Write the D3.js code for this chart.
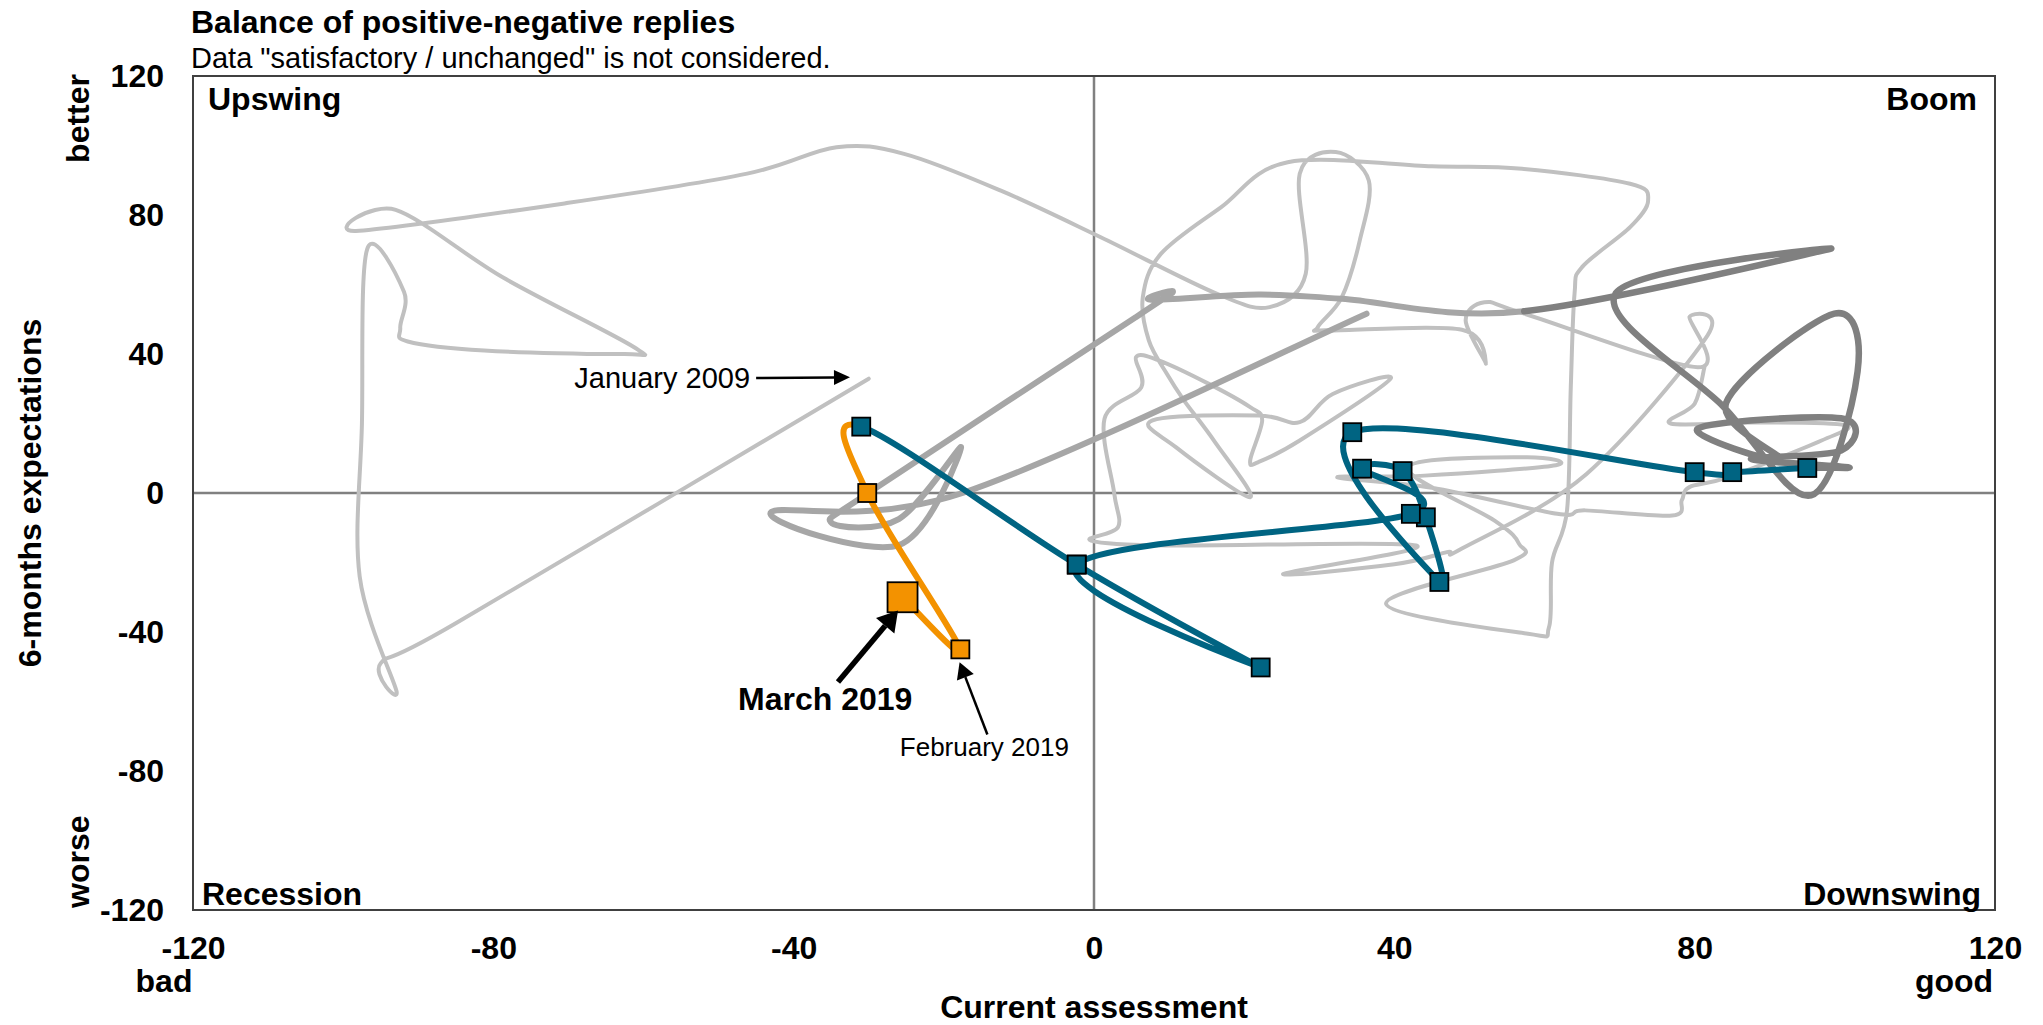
<!DOCTYPE html>
<html>
<head>
<meta charset="utf-8">
<script src="https://d3js.org/d3.v7.min.js"></script>
<style>
  body { margin: 0; background: #fff; }
  svg text { font-family: "Liberation Sans", Arial, sans-serif; fill: #000; }
</style>
</head>
<body>
<script>
// --- data: [current assessment, 6-months expectations] ---
const history = [
  [-30,32.9],[-85,-37.5],[-95,-49],[-92.9,-57],[-97.8,-24],[-97.5,20],[-96.8,70.2],
  [-91.9,57.9],[-92.4,47.5],[-91.4,43.6],[-81.2,41],[-62.9,40],[-61.3,42],[-78.7,62],[-93,81.5],
  [-98.3,75.4],[-70,83.5],[-46.2,91.9],[-34.3,99.5],[-25.3,97.6],[-12.4,87],[0.9,73.6],[16.4,57.3],
  [23.4,53.5],[28.2,63.1],[27.4,91.9],[32.2,98.1],[36.6,89.9],[35.4,72.7],[33,56.3],[29.8,47.7],
  [31.4,46.8],[49,47],[52.2,37.2],[49.5,49.6],[52,54.9],[57.3,51.6],[80.4,36.2],[79.3,50.6],
  [81.7,45.3],[65.6,5.5],[49,-16],[47,-17],[40,-20.5],[25.2,-23.3],[42.9,-15.1],[10.9,-15.1],
  [-0.4,-13.7],[3.2,-9.8],[2.7,-0.2],[1.4,21.4],[6.3,30.4],[5.6,39.1],[8.7,38.1],[15.3,31.4],
  [20.8,24.7],[22.4,20.9],[20.8,9.4],[21.9,8.9],[27.4,15.1],[39.5,32.9],[31.8,28.5],[27.4,20.4],
  [21.9,22.3],[7.8,20.9],[10.9,13.2],[20.8,-1.2],[16,15],[12,26.6],[9.7,34.3],[7.3,43.9],
  [6.5,56.3],[8.9,68.8],[16.9,82.2],[25.8,95.2],[45,94],[57,93.3],[71.4,89],[73.8,84.2],
  [71.4,76.5],[65,65],[64,57.3],[63.5,30.4],[63,-5],[61,-20],[60.6,-38.6],[57.8,-40.5],
  [38.9,-31.9],[55.9,-19.4],[56.6,-14.6],[53.4,-8],[41.8,7.4],[57.3,10.3],[61.5,8],[44,5],
  [32.4,4.5],[45,1.5],[61.7,-6],[65.4,-5],[77,-6.5],[78.3,-2],[79.3,1.7],[84.4,4.5],
  [96.9,15.1],[100,19.5],[88,20.3],[76.8,20],[80,25.7],[81.3,36.2]
];
const year2016 = [[36.3,51.6],[-17.5,0],[-43,-5.5],[-26,-15],[-17.7,13.2],[-26,-7.5],[-35,-8.5],[-29,1.5],
  [5.5,50.5],[10.5,58],[7.6,55.6],[21.9,57.1],[33,55.9],[57.3,52.3]];
const year2017 = [[98.1,70.3],[69.5,57.5],[83.9,24.7],[95.5,-0.7],[101.7,35],[98.6,51.6],[84.2,26],
  [91.5,9.5],[80.4,18.5],[99.5,21.5],[99.5,12.2],[87.5,9.8],[100.4,7.4]];
const year2018 = [[95,7.2],[85,6],[80,6],[34.4,17.5],[46,-25.6],[44.2,-7],[41.1,6.3],[35.7,7],
  [42.2,-6],[-2.3,-20.6],[22.2,-50.2],[-2.3,-20.6],[-31,19.1]];
const year2019 = [[-30.2,0],[-17.8,-45],[-25.5,-30]];

const xTicks = [-120, -80, -40, 0, 40, 80, 120];
const yTicks = [-120, -80, -40, 0, 40, 80, 120];
const quadrants = ["Upswing", "Boom", "Recession", "Downswing"];
const notes = ["January 2009", "February 2019", "March 2019"];

// --- layout ---
const W = 2043, H = 1025;
const svg = d3.select("body").append("svg").attr("width", W).attr("height", H);
const x = d3.scaleLinear().domain([-120, 120]).range([193, 1995]);
const y = d3.scaleLinear().domain([-120, 120]).range([910, 76]);

// titles
svg.append("text").attr("x", 191).attr("y", 33).attr("font-size", 32).attr("font-weight", "bold")
  .text("Balance of positive-negative replies");
svg.append("text").attr("x", 191).attr("y", 68).attr("font-size", 29)
  .text('Data "satisfactory / unchanged" is not considered.');

// zero lines
svg.append("line").attr("x1", x(0)).attr("x2", x(0)).attr("y1", y(120)).attr("y2", y(-120))
  .attr("stroke", "#808080").attr("stroke-width", 2.5);
svg.append("line").attr("x1", x(-120)).attr("x2", x(120)).attr("y1", y(0)).attr("y2", y(0))
  .attr("stroke", "#808080").attr("stroke-width", 2.5);

// smoothed path through points (uniform Catmull-Rom), with optional outer neighbours
function smooth(pts, before, after) {
  const p = pts.map(d => [x(d[0]), y(d[1])]);
  const a = before ? [x(before[0]), y(before[1])] : p[0];
  const b = after ? [x(after[0]), y(after[1])] : p[p.length - 1];
  const q = [a, ...p, b];
  const path = d3.path();
  path.moveTo(p[0][0], p[0][1]);
  for (let i = 1; i < q.length - 2; i++) {
    const p0 = q[i - 1], p1 = q[i], p2 = q[i + 1], p3 = q[i + 2];
    path.bezierCurveTo(
      p1[0] + (p2[0] - p0[0]) / 6, p1[1] + (p2[1] - p0[1]) / 6,
      p2[0] - (p3[0] - p1[0]) / 6, p2[1] - (p3[1] - p1[1]) / 6,
      p2[0], p2[1]);
  }
  return path.toString();
}

const plot = svg.append("g").attr("fill", "none").attr("stroke-linecap", "round").attr("stroke-linejoin", "round");

const last = a => a[a.length - 1];
const prev2 = a => a[a.length - 2];

plot.append("path").attr("d", smooth(history, null, null))
  .attr("stroke", "#c0c0c0").attr("stroke-width", 4);
plot.append("path").attr("d", smooth(year2016, null, year2017[0]))
  .attr("stroke", "#a6a6a6").attr("stroke-width", 6);
plot.append("path").attr("d", smooth([last(year2016), ...year2017, year2018[0]], prev2(year2016), year2018[1]))
  .attr("stroke", "#808080").attr("stroke-width", 6.5);
plot.append("path").attr("d", smooth(year2018, last(year2017), year2019[0]))
  .attr("stroke", "#006482").attr("stroke-width", 6);
plot.append("path").attr("d", smooth([last(year2018), ...year2019], prev2(year2018), null))
  .attr("stroke", "#f39200").attr("stroke-width", 6);

// markers
const marks = svg.append("g").attr("stroke", "#000").attr("stroke-width", 1.8);
marks.selectAll("rect.teal").data(year2018).join("rect")
  .attr("x", d => x(d[0]) - 9).attr("y", d => y(d[1]) - 9).attr("width", 18).attr("height", 18)
  .attr("fill", "#006482");
marks.selectAll("rect.orange").data(year2019).join("rect")
  .attr("x", (d, i) => x(d[0]) - (i === 2 ? 15 : 9)).attr("y", (d, i) => y(d[1]) - (i === 2 ? 15 : 9))
  .attr("width", (d, i) => i === 2 ? 30 : 18).attr("height", (d, i) => i === 2 ? 30 : 18)
  .attr("fill", "#f39200");

// frame
svg.append("rect").attr("x", x(-120)).attr("y", y(120)).attr("width", x(120) - x(-120)).attr("height", y(-120) - y(120))
  .attr("fill", "none").attr("stroke", "#404040").attr("stroke-width", 2);

// axes
const ax = svg.append("g").attr("transform", `translate(0,${y(-120)})`)
  .call(d3.axisBottom(x).tickValues(xTicks).tickFormat(d => String(d)).tickSize(0).tickPadding(26));
const ay = svg.append("g").attr("transform", `translate(${x(-120)},0)`)
  .call(d3.axisLeft(y).tickValues(yTicks).tickFormat(d => String(d)).tickSize(0).tickPadding(29));
[ax, ay].forEach(g => {
  g.select(".domain").remove();
  g.selectAll("text").attr("font-size", 32).attr("font-weight", "bold")
    .attr("font-family", '"Liberation Sans", Arial, sans-serif');
});

// axis captions
const bold = (t, px, py, anchor, rot) => {
  const e = svg.append("text").attr("font-size", 32).attr("font-weight", "bold")
    .attr("text-anchor", anchor).text(t);
  if (rot) e.attr("transform", `translate(${px},${py}) rotate(-90)`);
  else e.attr("x", px).attr("y", py);
  return e;
};
bold("bad", 164, 992, "middle");
bold("good", 1954, 992, "middle");
bold("Current assessment", x(0), 1018, "middle");
bold("6-months expectations", 41, y(0), "middle", true);
bold("better", 89, y(120) - 2, "end", true);
bold("worse", 89, y(-120) - 2, "start", true);

// quadrant labels
bold(quadrants[0], x(-120) + 15, y(120) + 34, "start");
bold(quadrants[1], x(120) - 18, y(120) + 34, "end");
bold(quadrants[2], x(-120) + 9, y(-120) - 5, "start");
bold(quadrants[3], x(120) - 14, y(-120) - 5, "end");

// annotations
function arrow(x1, y1, x2, y2, w, hl, hw) {
  const a = Math.atan2(y2 - y1, x2 - x1);
  const bx = x2 - hl * Math.cos(a), by = y2 - hl * Math.sin(a);
  svg.append("line").attr("x1", x1).attr("y1", y1).attr("x2", bx).attr("y2", by)
    .attr("stroke", "#000").attr("stroke-width", w);
  const nx = -Math.sin(a) * hw / 2, ny = Math.cos(a) * hw / 2;
  svg.append("path").attr("d", `M${x2},${y2}L${bx + nx},${by + ny}L${bx - nx},${by - ny}Z`).attr("fill", "#000");
}
svg.append("text").attr("x", x(-45.8)).attr("y", y(33.1)).attr("dy", "0.35em").attr("text-anchor", "end")
  .attr("font-size", 29).text(notes[0]);
arrow(x(-45), y(33.1), x(-32.5), y(33.3), 2.5, 16, 15);

svg.append("text").attr("x", x(-14.6)).attr("y", y(-73)).attr("dy", "0.35em").attr("text-anchor", "middle")
  .attr("font-size", 26).text(notes[1]);
arrow(x(-14.2), y(-69.5), x(-17.9), y(-48.7), 2.5, 16, 18);

svg.append("text").attr("x", x(-35.8)).attr("y", y(-59.1)).attr("dy", "0.35em").attr("text-anchor", "middle")
  .attr("font-size", 32).attr("font-weight", "bold").text(notes[2]);
arrow(x(-34.1), y(-54.4), x(-26.1), y(-33.8), 5.5, 20, 24);
</script>
</body>
</html>
